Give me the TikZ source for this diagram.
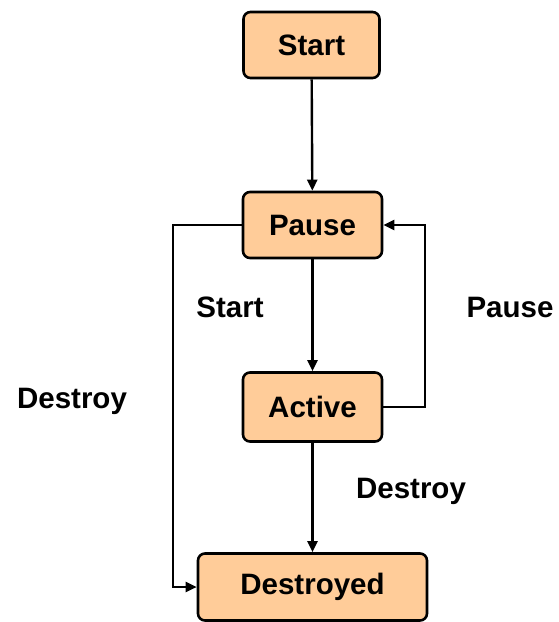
\documentclass[tikz,border=0pt]{standalone}
\usepackage{fontspec}
\setmainfont{Liberation Sans}
\usetikzlibrary{arrows.meta}

\definecolor{peach}{RGB}{255,204,153}

\tikzset{
	state/.style={draw=black, fill=peach, line width=2.6pt, rounded corners=7pt,
		inner sep=0pt, font=\fontsize{29.5}{32}\selectfont\bfseries},
	flow/.style={line width=2.4pt, -{Triangle[length=11pt,width=10pt]}},
	lbl/.style={font=\fontsize{29.5}{32}\selectfont\bfseries}
}

\begin{document}
\begin{tikzpicture}[x=1pt, y=-1pt]
	\useasboundingbox (0,0) rectangle (558,622);
	
	% Estados
	\node[state, minimum width=136pt, minimum height=66pt] (start) at (311.5, 45) {Start};
	\node[state, minimum width=139pt, minimum height=66pt] (pause) at (312.5, 225) {Pause};
	\node[state, minimum width=139pt, minimum height=69pt] (active) at (312.5, 407) {Active};
	\node[state, minimum width=229pt, minimum height=67pt] (destroyed) at (312.5, 587) {Destroyed};
	
	% Transicoes
	\draw[flow] (start) -- (pause);
	\draw[flow] (pause) -- (active);
	\draw[flow] (active) -- (destroyed);
	\draw[flow] (active.east) -- (425, 407) |- (pause.east);
	\draw[flow] (pause.west) -- (173, 225) |- (destroyed.west);
	
	% Rotulos
	\node[lbl] (lstart) at (230, 307) {Start};
	\node[lbl] (lpause) at (510, 307) {Pause};
	\node[lbl] (ldestroy) at (72, 401) {Destroy};
	\node[lbl] (ldestroy2) at (411, 491) {Destroy};
\end{tikzpicture}
\end{document}
